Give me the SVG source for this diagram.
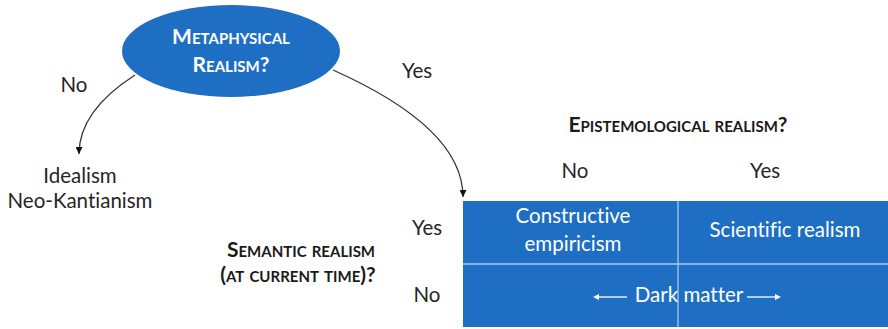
<svg xmlns="http://www.w3.org/2000/svg" width="888" height="329" viewBox="0 0 888 329">
<style>
text{font-family:Lato,"Open Sans","Liberation Sans",sans-serif;text-anchor:middle;font-variant-ligatures:none}
.lbl{font-size:20.5px;fill:#262626}
.sc{font-size:21px;font-weight:bold;font-variant:small-caps;fill:#1a1a1a}
.scw{font-size:21px;font-weight:bold;font-variant:small-caps;fill:#fff}
.w{fill:#fff;font-size:20.5px}
.conn{fill:none;stroke:#333;stroke-width:1.3}
</style>
<defs>
<marker id="ah" viewBox="0 0 10 10" refX="10" refY="5" markerWidth="7" markerHeight="7" orient="auto" markerUnits="userSpaceOnUse">
<path d="M0,0L10,5L0,10z" fill="#111"/>
</marker>
</defs>
<rect width="888" height="329" fill="#fff"/>
<g id="metaphysical">
<ellipse cx="231" cy="51" rx="109" ry="46" fill="#1e6fc3"/>
<text class="scw" x="231" y="44">Metaphysical</text>
<text class="scw" x="231" y="72">Realism?</text>
</g>
<g id="connectors">
<path class="conn" d="M135,75 Q79,111 79,154" marker-end="url(#ah)"/>
<path class="conn" d="M333,70 Q463,128 463,197" marker-end="url(#ah)"/>
<text class="lbl" x="74" y="92">No</text>
<text class="lbl" x="417" y="78">Yes</text>
</g>
<g id="idealism">
<text class="lbl" x="80" y="183">Idealism</text>
<text class="lbl" x="80" y="208">Neo-Kantianism</text>
</g>
<g id="epistemological">
<text class="sc" x="678" y="132">Epistemological realism?</text>
<text class="lbl" x="575" y="178">No</text>
<text class="lbl" x="765" y="178">Yes</text>
</g>
<g id="semantic">
<text class="sc" x="301" y="257">Semantic realism</text>
<text class="sc" x="298" y="282">(at current time)?</text>
<text class="lbl" x="427" y="235">Yes</text>
<text class="lbl" x="427" y="302">No</text>
</g>
<g id="matrix">
<rect x="463" y="201" width="425" height="126" fill="#1e6fc3"/>
<line x1="678" y1="201" x2="678" y2="327" stroke="#a9c8ea" stroke-width="1.3"/>
<line x1="463" y1="264" x2="888" y2="264" stroke="#a9c8ea" stroke-width="1.3"/>
<text class="w" x="573" y="223">Constructive</text>
<text class="w" x="573" y="251">empiricism</text>
<text class="w" x="785" y="237">Scientific realism</text>
<text class="w" x="689" y="302">Dark matter</text>
<line x1="627" y1="297" x2="597" y2="297" stroke="#fff" stroke-width="1.3"/>
<path d="M593,297 l6,-3 v6z" fill="#fff"/>
<line x1="747" y1="297" x2="777" y2="297" stroke="#fff" stroke-width="1.3"/>
<path d="M781,297 l-6,-3 v6z" fill="#fff"/>
</g>
</svg>
